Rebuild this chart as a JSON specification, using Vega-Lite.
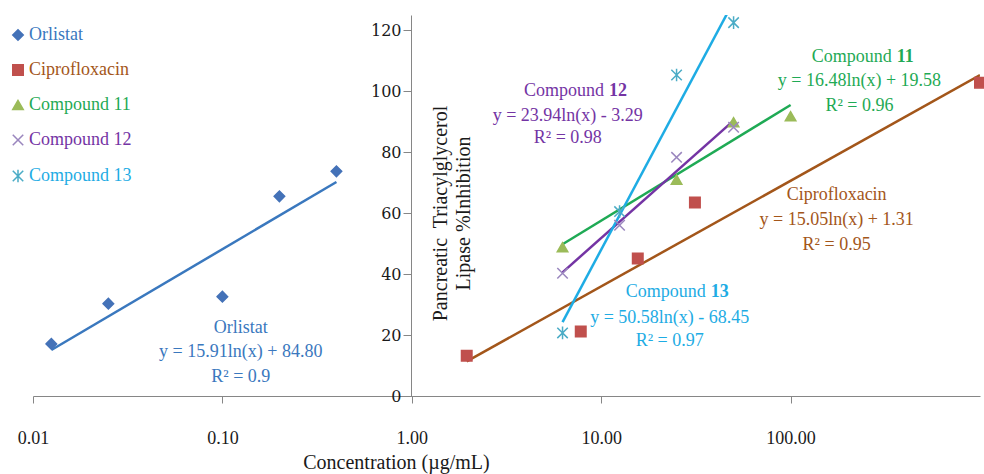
{
  "$schema": "https://vega.github.io/schema/vega-lite/v6.json",
  "width": 947,
  "height": 381,
  "autosize": "none",
  "padding": {"left": 33, "top": 15, "right": 4, "bottom": 78},
  "background": "white",
  "config": {
    "view": {"stroke": null},
    "legend": {"labelFont": "Liberation Serif", "labelFontSize": 18}
  },
  "datasets": {
    "points": [
      {"series": "Orlistat", "x": 0.0125, "y": 17.1},
      {"series": "Orlistat", "x": 0.025, "y": 30.3},
      {"series": "Orlistat", "x": 0.1, "y": 32.6},
      {"series": "Orlistat", "x": 0.2, "y": 65.5},
      {"series": "Orlistat", "x": 0.4, "y": 73.7},
      {"series": "Ciprofloxacin", "x": 1.95, "y": 13.2},
      {"series": "Ciprofloxacin", "x": 7.8, "y": 21.2},
      {"series": "Ciprofloxacin", "x": 15.6, "y": 45.1},
      {"series": "Ciprofloxacin", "x": 31.25, "y": 63.5},
      {"series": "Ciprofloxacin", "x": 1000, "y": 102.8},
      {"series": "Compound 11", "x": 6.25, "y": 48.8},
      {"series": "Compound 11", "x": 25, "y": 71.0},
      {"series": "Compound 11", "x": 50, "y": 89.8},
      {"series": "Compound 11", "x": 100, "y": 91.8},
      {"series": "Compound 12", "x": 6.25, "y": 40.3},
      {"series": "Compound 12", "x": 12.5, "y": 56.0},
      {"series": "Compound 12", "x": 25, "y": 78.3},
      {"series": "Compound 12", "x": 50, "y": 88.2},
      {"series": "Compound 13", "x": 6.25, "y": 20.7},
      {"series": "Compound 13", "x": 12.5, "y": 60.5},
      {"series": "Compound 13", "x": 25, "y": 105.3},
      {"series": "Compound 13", "x": 50, "y": 122.5}
    ],
    "trend": [
      {"series": "Orlistat", "x": 0.0125, "y": 15.08},
      {"series": "Orlistat", "x": 0.4, "y": 70.22},
      {"series": "Ciprofloxacin", "x": 1.95, "y": 11.36},
      {"series": "Ciprofloxacin", "x": 1000, "y": 105.27},
      {"series": "Compound 11", "x": 6.25, "y": 49.78},
      {"series": "Compound 11", "x": 100, "y": 95.47},
      {"series": "Compound 12", "x": 6.25, "y": 40.58},
      {"series": "Compound 12", "x": 50, "y": 90.36},
      {"series": "Compound 13", "x": 6.25, "y": 24.24},
      {"series": "Compound 13", "x": 50, "y": 129.43}
    ],
    "notes": [
      {"series": "Orlistat", "text": "Orlistat", "x": 0.125, "y": 22.4},
      {"series": "Orlistat", "text": "y = 15.91ln(x) + 84.80", "x": 0.125, "y": 14.5},
      {"series": "Orlistat", "text": "R² = 0.9", "x": 0.125, "y": 6.3},
      {"series": "Ciprofloxacin", "text": "Ciprofloxacin", "x": 175, "y": 66.1},
      {"series": "Ciprofloxacin", "text": "y = 15.05ln(x) + 1.31", "x": 175, "y": 57.9},
      {"series": "Ciprofloxacin", "text": "R² = 0.95", "x": 175, "y": 49.7},
      {"series": "Compound 11", "text": "y = 16.48ln(x) + 19.58", "x": 231, "y": 103.3},
      {"series": "Compound 11", "text": "R² = 0.96", "x": 231, "y": 95.1},
      {"series": "Compound 12", "text": "y = 23.94ln(x) - 3.29", "x": 6.66, "y": 91.8},
      {"series": "Compound 12", "text": "R² = 0.98", "x": 6.66, "y": 84.5},
      {"series": "Compound 13", "text": "y = 50.58ln(x) - 68.45", "x": 23.0, "y": 25.7},
      {"series": "Compound 13", "text": "R² = 0.97", "x": 23.0, "y": 18.1}
    ],
    "heads": [
      {"series": "Compound 11", "name": "Compound", "num": "11", "x": 350, "y": 111.2},
      {"series": "Compound 12", "name": "Compound", "num": "12", "x": 10.6, "y": 100.0},
      {"series": "Compound 13", "name": "Compound", "num": "13", "x": 36.5, "y": 34.2}
    ]
  },
  "encoding": {
    "x": {
      "field": "x", "type": "quantitative",
      "scale": {"type": "log", "domain": [0.01, 1000], "nice": false},
      "axis": {
        "values": [0.01, 0.1, 1, 10, 100],
        "format": ".2f",
        "grid": false,
        "domainColor": "#868686",
        "tickColor": "#868686",
        "tickSize": 7,
        "labelPadding": 26,
        "labelFlush": false,
        "labelFont": "Liberation Serif",
        "labelFontSize": 18,
        "labelColor": "#1a1a1a",
        "title": "Concentration (µg/mL)",
        "titleFont": "Liberation Serif",
        "titleFontSize": 20,
        "titleFontWeight": "normal",
        "titleColor": "#1a1a1a",
        "titleX": 363,
        "titleY": 66,
        "titleAlign": "center",
        "titleBaseline": "middle"
      }
    },
    "y": {
      "field": "y", "type": "quantitative",
      "scale": {"domain": [0, 125], "nice": false},
      "axis": {
        "values": [0, 20, 40, 60, 80, 100, 120],
        "offset": -378,
        "grid": false,
        "domainColor": "#868686",
        "tickColor": "#868686",
        "tickSize": 8,
        "labelPadding": 2,
        "labelFlush": false,
        "labelFont": "DejaVu Serif",
        "labelFontSize": 16,
        "labelColor": "#1a1a1a",
        "title": ["Pancreatic\u00a0 Triacylglycerol", "Lipase %Inhibition"],
        "titleFont": "Liberation Serif",
        "titleFontSize": 20,
        "titleFontWeight": "normal",
        "titleColor": "#1a1a1a",
        "titleLineHeight": 23,
        "titleAngle": -90,
        "titleX": 29,
        "titleY": 198,
        "titleAlign": "center",
        "titleBaseline": "middle"
      }
    }
  },
  "layer": [
    {
      "data": {"name": "trend"},
      "mark": {"type": "line", "strokeWidth": 2.5, "clip": true},
      "encoding": {
        "detail": {"field": "series"},
        "color": {
          "field": "series", "type": "nominal", "legend": null,
          "scale": {
            "domain": ["Compound 13", "Compound 12", "Compound 11", "Ciprofloxacin", "Orlistat"],
            "range": ["#1EACE4", "#7434A4", "#1FAA55", "#A3561A", "#3A78BE"]
          }
        }
      }
    },
    {
      "data": {"name": "points"},
      "mark": {"type": "point", "filled": true, "size": 110, "strokeWidth": 1.5, "opacity": 1},
      "encoding": {
        "fill": {
          "field": "series", "type": "nominal",
          "scale": {
            "domain": ["Orlistat", "Ciprofloxacin", "Compound 11", "Compound 12", "Compound 13"],
            "range": ["#4472B8", "#C0504D", "#9BBB59", "#9A86BE", "#4BACC6"]
          },
          "legend": {
            "title": null, "orient": "none", "legendX": -24, "legendY": 11,
            "direction": "vertical",
            "labelFont": "Liberation Serif", "labelFontSize": 18,
            "labelColor": {"expr": "scale('color', datum.value)"},
            "symbolSize": 110, "symbolStrokeWidth": 1.5, "rowPadding": 17,
            "labelOffset": 2, "padding": 0,
            "encode": {"labels": {"font": {"value": "Liberation Serif"}}}
          }
        },
        "stroke": {
          "field": "series", "type": "nominal",
          "scale": {
            "domain": ["Orlistat", "Ciprofloxacin", "Compound 11", "Compound 12", "Compound 13"],
            "range": ["#4472B8", "#C0504D", "#9BBB59", "#9A86BE", "#4BACC6"]
          },
          "legend": {
            "title": null, "orient": "none", "legendX": -24, "legendY": 11,
            "direction": "vertical",
            "labelFont": "Liberation Serif", "labelFontSize": 18,
            "labelColor": {"expr": "scale('color', datum.value)"},
            "symbolSize": 110, "symbolStrokeWidth": 1.5, "rowPadding": 17,
            "labelOffset": 2, "padding": 0,
            "encode": {"labels": {"font": {"value": "Liberation Serif"}}}
          }
        },
        "shape": {
          "field": "series", "type": "nominal",
          "scale": {
            "domain": ["Orlistat", "Ciprofloxacin", "Compound 11", "Compound 12", "Compound 13"],
            "range": ["diamond", "square", "triangle-up", "M-1,-1L1,1M1,-1L-1,1", "M-1,-1L1,1M1,-1L-1,1M0,-1.2L0,1.2"]
          },
          "legend": {
            "title": null, "orient": "none", "legendX": -24, "legendY": 11,
            "direction": "vertical",
            "labelFont": "Liberation Serif", "labelFontSize": 18,
            "labelColor": {"expr": "scale('color', datum.value)"},
            "symbolSize": 110, "symbolStrokeWidth": 1.5, "rowPadding": 17,
            "labelOffset": 2, "padding": 0,
            "encode": {"labels": {"font": {"value": "Liberation Serif"}}}
          }
        }
      }
    },
    {
      "data": {"name": "notes"},
      "mark": {"type": "text", "font": "Liberation Serif", "fontSize": 18, "align": "center", "baseline": "middle"},
      "encoding": {
        "text": {"field": "text"},
        "color": {"field": "series", "type": "nominal", "legend": null}
      }
    },
    {
      "data": {"name": "heads"},
      "mark": {"type": "text", "font": "Liberation Serif", "fontSize": 18, "align": "right", "baseline": "middle", "dx": -2},
      "encoding": {
        "text": {"field": "name"},
        "color": {"field": "series", "type": "nominal", "legend": null}
      }
    },
    {
      "data": {"name": "heads"},
      "mark": {"type": "text", "font": "Liberation Serif", "fontSize": 18, "fontWeight": "bold", "align": "left", "baseline": "middle", "dx": 3},
      "encoding": {
        "text": {"field": "num"},
        "color": {"field": "series", "type": "nominal", "legend": null}
      }
    }
  ]
}
